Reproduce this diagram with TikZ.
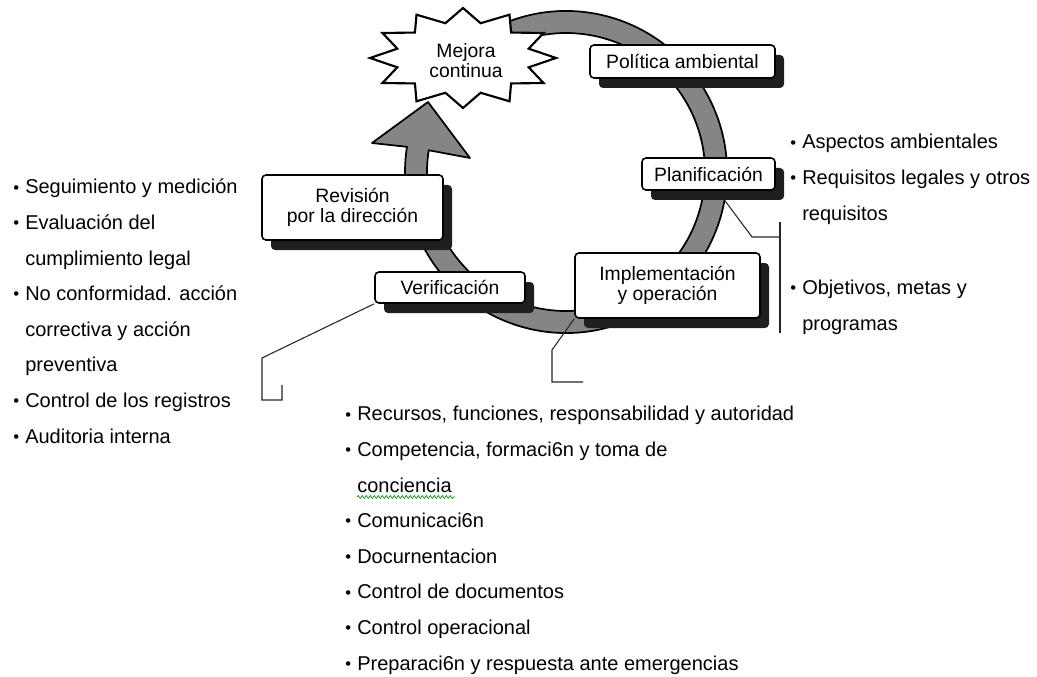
\documentclass[tikz,border=0pt]{standalone}
\usepackage{fontspec}
\setmainfont{Liberation Sans}
\usetikzlibrary{shadows,decorations.pathmorphing}

% list bullet and hanging indent
\newcommand\bul{\makebox[9pt][l]{\raisebox{0.6pt}{\fontsize{12.5}{12.5}\selectfont •}}}
\newcommand\ind{\hspace*{9pt}}

\tikzset{
  stagebox/.style={draw=black, line width=1.2pt, fill=white, rounded corners=3pt,
    inner sep=0pt, align=center, font=\fontsize{14.5}{15}\selectfont,
    general shadow={fill=black!88, shadow xshift=6.75pt, shadow yshift=-7.5pt}},
  ring/.style={draw=black, line width=1.3pt, fill=black!48, line join=round},
  starline/.style={draw=black, line width=1.6pt, fill=white, line join=miter},
  leader/.style={draw=black!85, line width=0.8pt},
  % anchored at the baseline of the last line
  bullets/.style={align=left, inner sep=0pt, anchor=base west,
    font=\fontsize{15}{26.7}\selectfont},
  spell/.style={draw=green!55!black, line width=0.5pt,
    decorate, decoration={snake, amplitude=1.1pt, segment length=3pt}},
}

\begin{document}
\begin{tikzpicture}[x=0.75pt,y=-0.75pt]
\useasboundingbox (0,0) rectangle (1037,677);

% cycle ring ending in the arrow head
\path[ring] ([shift={(566,172)}]245:161) arc[start angle=245, end angle=549, radius=161]
  -- (372,143) -- (428,102) -- (470,158)
  -- ([shift={(566,172)}]549:139) arc[start angle=549, end angle=245, radius=139] -- cycle;

% twelve-point star
\path[starline] (556,58)
  \foreach \a in {30,60,...,330} {
    -- ({463+68*cos(\a-15)},{58+36*sin(\a-15)}) -- ({463+93*cos(\a)},{58+50*sin(\a)})
  } -- ({463+68*cos(345)},{58+36*sin(345)}) -- cycle;
\node[align=center, inner sep=0pt, font=\fontsize{14.5}{15}\selectfont] (mejora) at (466,61) {Mejora\\continua};

% stage boxes
\node[stagebox, minimum width=138.75pt, minimum height=24.75pt] (pol) at (682.5,61.5) {Política ambiental};
\node[stagebox, minimum width=99.75pt, minimum height=24pt] (plan) at (708.5,174) {Planificación};
\node[stagebox, minimum width=138.75pt, minimum height=48.75pt] (impl) at (667.5,285.5) {Implementación\\y operación};
\node[stagebox, minimum width=112.5pt, minimum height=23.25pt] (verif) at (450,287.5) {Verificación};
\node[stagebox, minimum width=135.75pt, minimum height=48.75pt] (rev) at (352.5,207.5) {Revisión\\por la dirección};

% leader lines
\coordinate (pb1) at (752,237);
\coordinate (pb2) at (780,237);
\coordinate (brT) at (780,222);
\coordinate (brB) at (780,333);
\draw[leader] ([xshift=12.4pt,yshift=-7.5pt]plan.south) -- (pb1) -- (pb2);
\draw[leader] (brT) -- (brB);

\coordinate (i1) at (552,350);
\coordinate (i2) at (552,382);
\coordinate (i3) at (583,382);
\draw[leader] (impl.south west) -- (i1) -- (i2) -- (i3);

\coordinate (v1) at (262,358);
\coordinate (v2) at (262,400);
\coordinate (v3) at (282,400);
\coordinate (v4) at (282,385);
\draw[leader] (verif.south west) -- (v1) -- (v2) -- (v3) -- (v4);

% item lists
\node[bullets] (listL) at (13,443) {\bul Seguimiento y medición\\
  \bul Evaluación del\\
  \ind cumplimiento legal\\
  \bul No conformidad. acción\\
  \ind correctiva y acción\\
  \ind preventiva\\
  \bul Control de los registros\\
  \bul Auditoria interna};

\node[bullets] (listR1) at (790,220) {\bul Aspectos ambientales\\
  \bul Requisitos legales y otros\\
  \ind requisitos};

\node[bullets] (listR2) at (790,330) {\bul Objetivos, metas y\\
  \ind programas};

\node[bullets] (listB) at (345,670) {\bul Recursos, funciones, responsabilidad y autoridad\\
  \bul Competencia, formaci6n y toma de\\
  \ind conciencia\\
  \bul Comunicaci6n\\
  \bul Docurnentacion\\
  \bul Control de documentos\\
  \bul Control operacional\\
  \bul Preparaci6n y respuesta ante emergencias};

% spelling mark under "conciencia"
\coordinate (sq1) at (357,497);
\coordinate (sq2) at (455,497);
\draw[spell] (sq1) -- (sq2);
\end{tikzpicture}
\end{document}
